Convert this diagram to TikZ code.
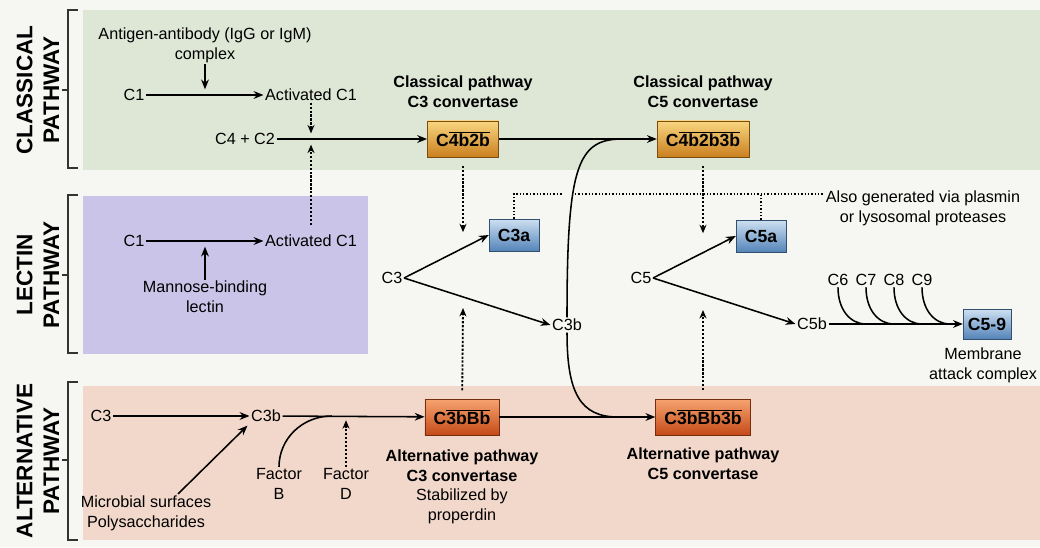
\documentclass[tikz,border=0pt]{standalone}
\usepackage{fontspec}
\setmainfont{Liberation Sans}
\usepackage{tikz}
\usetikzlibrary{arrows.meta, positioning}
\definecolor{pagebg}{RGB}{246,246,243}
\definecolor{classbg}{RGB}{222,231,214}
\definecolor{lectbg}{RGB}{202,196,232}
\definecolor{altbg}{RGB}{242,216,203}
\definecolor{goldtop}{RGB}{248,214,128}
\definecolor{goldbot}{RGB}{202,128,30}
\definecolor{redtop}{RGB}{246,164,112}
\definecolor{redbot}{RGB}{196,74,24}
\definecolor{bluetop}{RGB}{206,224,242}
\definecolor{bluebot}{RGB}{84,132,184}
\newcommand{\barover}[1]{$\overline{\mbox{#1}}$}

\begin{document}
\begin{tikzpicture}[
  x=0.025cm, y=-0.025cm,
  lbl/.style={font=\fontsize{11.5}{14}\selectfont, inner sep=1pt, align=center},
  conv/.style={font=\fontsize{11.5}{14}\selectfont\bfseries, inner sep=1pt, align=center},
  side/.style={font=\fontsize{16}{19}\selectfont\bfseries, rotate=90, align=center, inner sep=0pt},
  enzbox/.style={rectangle, font=\fontsize{12.5}{14}\selectfont\bfseries, inner xsep=0.22cm, inner ysep=0pt},
  goldbox/.style={enzbox, draw=goldbot!60!black, top color=goldtop, bottom color=goldbot, minimum height=0.9cm},
  redbox/.style={enzbox, draw=redbot!60!black, top color=redtop, bottom color=redbot, minimum height=0.9cm},
  bluebox/.style={enzbox, draw=bluebot!60!black, top color=bluetop, bottom color=bluebot, minimum height=0.8cm},
  arr/.style={-{Stealth[length=7pt, width=5.5pt]}, line width=1.1pt},
  link/.style={line width=1.1pt},
  dotarr/.style={-{Stealth[length=6pt, width=5pt]}, line width=1.3pt, dash pattern=on 1.6pt off 1.2pt},
  dotline/.style={line width=0.8pt, dash pattern=on 1pt off 1.4pt},
  brack/.style={line width=1pt, black!80}
]
  \useasboundingbox (0,0) rectangle (1040,547);
  \fill[pagebg] (0,0) rectangle (1040,547);

  % pathway bands
  \fill[classbg] (83,10) rectangle (1040,170);
  \fill[lectbg] (83,196) rectangle (368,354);
  \fill[altbg] (83,386) rectangle (1040,540);

  \draw[brack] (78,10) -- (68,10) -- (68,168) -- (78,168) (68,90) -- (62,90);
  \draw[brack] (78,195) -- (68,195) -- (68,353) -- (78,353) (68,275) -- (62,275);
  \draw[brack] (78,382) -- (68,382) -- (68,540) -- (78,540) (68,460) -- (62,460);

  \node[side] (sideclass) at (38,90) {CLASSICAL\\PATHWAY};
  \node[side] (sidelect) at (38,275) {LECTIN\\PATHWAY};
  \node[side] (sidealt) at (38,461) {ALTERNATIVE\\PATHWAY};

  % classical pathway
  \node[lbl] (agab) at (205,45) {Antigen-antibody (IgG or IgM)\\complex};
  \node[lbl] (c1a) at (134,95) {C1};
  \node[lbl] (ac1a) at (311,95) {Activated C1};
  \node[lbl] (c4c2) at (245,139) {C4 + C2};
  \node[goldbox] (c4b2b) at (463,139) {C\barover{4b2b}};
  \node[goldbox] (c4b2b3b) at (703,139) {C\barover{4b2b3b}};
  \node[conv] (cl3t) at (463,92) {Classical pathway\\C3 convertase};
  \node[conv] (cl5t) at (703,92) {Classical pathway\\C5 convertase};

  \draw[arr] (c1a) -- (ac1a);
  \draw[arr, shorten >=4pt] (agab) -- (agab |- c1a);
  \draw[dotarr, shorten >=4pt] (ac1a) -- (ac1a |- c4c2);
  \draw[arr] (c4c2) -- (c4b2b);

  % lectin pathway
  \node[lbl] (c1b) at (134,241) {C1};
  \node[lbl] (ac1b) at (311,241) {Activated C1};
  \node[lbl] (mbl) at (205,297) {Mannose-binding\\lectin};

  \draw[arr] (c1b) -- (ac1b);
  \draw[arr, shorten >=4pt] (mbl) -- (mbl |- c1b);
  \draw[dotarr, shorten <=6pt, shorten >=4pt] (ac1b) -- (ac1b |- c4c2);

  % C3 and C5 cleavage
  \node[lbl] (c3m) at (392,278) {C3};
  \node[bluebox] (c3a) at (514,235) {C3a};
  \node[lbl] (c3bm) at (567,325) {C3b};
  \node[lbl] (c5m) at (641,278) {C5};
  \node[bluebox] (c5a) at (761,236) {C5a};
  \node[lbl] (c5bm) at (812,324) {C5b};
  \node[bluebox, inner xsep=0.12cm, minimum height=0.75cm] (c59) at (987,324) {C5-9};
  \node[lbl] (mac) at (983,365) {Membrane\\attack complex};
  \node[lbl] (alsogen) at (923,208) {Also generated via plasmin\\or lysosomal proteases};

  \coordinate (gapL) at (562,194);
  \coordinate (gapR) at (575,194);
  \coordinate (mergeTop) at (622,139);
  \coordinate (mergeBot) at (618,417);
  \coordinate (c3up) at (463,308);
  \coordinate (c5up) at (703,310);

  \draw[dotline] (c3a.north) |- (gapL);
  \draw[dotline] (gapR) -- (gapR -| alsogen.west);
  \draw[dotline] (c5a.north) -- (c5a.north |- gapR);

  \draw[arr] (c3m.east) -- (c3a.west);
  \draw[arr] (c3m.east) -- (c3bm.west);
  \draw[arr] (c5m.east) -- (c5a.west);
  \draw[arr] (c5m.east) -- (c5bm.west);
  \draw[dotarr, shorten <=6pt, shorten >=2pt] (c4b2b) -- (c4b2b |- c3a);
  \draw[dotarr, shorten <=6pt, shorten >=2pt] (c4b2b3b) -- (c4b2b3b |- c5a);

  \draw[link] (c3bm.north) .. controls +(0,-150) and +(-45,0) .. (mergeTop);
  \draw[arr] (c4b2b) -- (c4b2b3b);

  \foreach \n [count=\i] in {6,7,8,9} {
    \node[lbl] (c\n) at ({838+28*(\i-1)},280) {C\n};
    \coordinate (m\n) at ({866+28*(\i-1)},324);
    \draw[link] (c\n.south) .. controls +(0,22) and +(-16,0) .. (m\n);
  }
  \draw[arr] (c5bm) -- (c59);

  % alternative pathway
  \node[lbl] (c3alt) at (101,416) {C3};
  \node[lbl] (c3balt) at (266,416) {C3b};
  \node[lbl] (micro) at (146,513) {Microbial surfaces\\Polysaccharides};
  \node[lbl] (facb) at (279,484) {Factor\\B};
  \node[lbl] (facd) at (346,484) {Factor\\D};
  \node[redbox] (c3bbb) at (462,417) {C\barover{3bBb}};
  \node[redbox] (c3bbb3b) at (703,417) {C\barover{3bBb3b}};
  \node[conv] (al3t) at (462,466) {Alternative pathway\\C3 convertase};
  \node[lbl] (prop) at (462,506) {Stabilized by\\properdin};
  \node[conv] (al5t) at (703,464) {Alternative pathway\\C5 convertase};
  \coordinate (mergeB) at (332,416);

  \draw[arr] (c3alt) -- (c3balt);
  \draw[arr, shorten >=2pt] ([xshift=0.8cm]micro.north) -- (c3balt.south west);
  \draw[link] (facb.north) .. controls +(0,-28) and +(-30,0) .. (mergeB);
  \draw[dotarr, shorten >=3pt] (facd) -- (facd |- c3balt);
  \draw[arr] (c3balt) -- (c3bbb);
  \draw[dotarr, shorten <=6pt] (c3bbb) -- (c3up);
  \draw[dotarr, shorten <=6pt] (c3bbb3b) -- (c5up);

  \draw[link] (c3bm.south) .. controls +(0,60) and +(-38,0) .. (mergeBot);
  \draw[arr] (c3bbb) -- (c3bbb3b);
\end{tikzpicture}
\end{document}
